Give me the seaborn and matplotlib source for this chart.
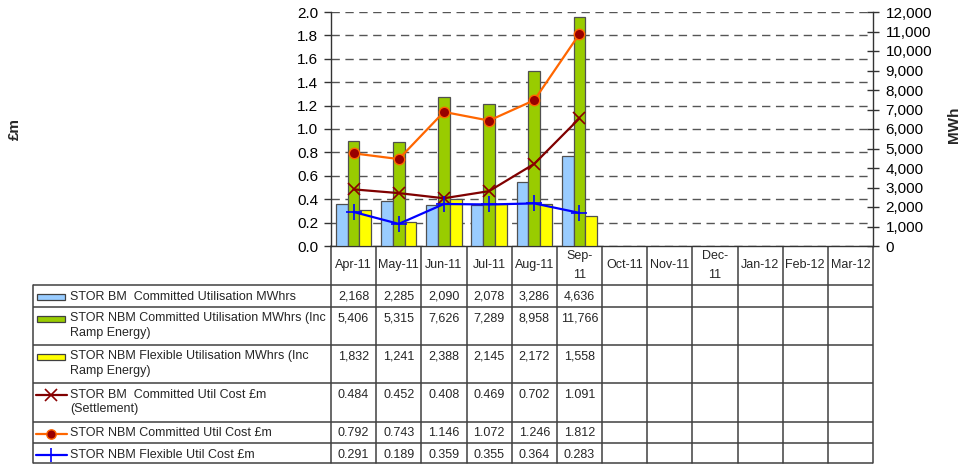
import numpy as np
import pandas as pd
import matplotlib
matplotlib.use("Agg")
import matplotlib.pyplot as plt
import matplotlib.transforms as mtransforms
from matplotlib.patches import Rectangle
from matplotlib.lines import Line2D
import seaborn as sns

# ---------------- data ----------------
months = ["Apr-11", "May-11", "Jun-11", "Jul-11", "Aug-11", "Sep-11",
          "Oct-11", "Nov-11", "Dec-11", "Jan-12", "Feb-12", "Mar-12"]
month_labels = ["Apr-11", "May-11", "Jun-11", "Jul-11", "Aug-11", "Sep-\n11",
                "Oct-11", "Nov-11", "Dec-\n11", "Jan-12", "Feb-12", "Mar-12"]
data_months = months[:6]

bm_committed_mwh = [2168, 2285, 2090, 2078, 3286, 4636]
nbm_committed_mwh = [5406, 5315, 7626, 7289, 8958, 11766]
nbm_flexible_mwh = [1832, 1241, 2388, 2145, 2172, 1558]
bm_committed_cost = [0.484, 0.452, 0.408, 0.469, 0.702, 1.091]
nbm_committed_cost = [0.792, 0.743, 1.146, 1.072, 1.246, 1.812]
nbm_flexible_cost = [0.291, 0.189, 0.359, 0.355, 0.364, 0.283]

bar_names = ["STOR BM  Committed Utilisation MWhrs",
             "STOR NBM Committed Utilisation MWhrs (Inc\nRamp Energy)",
             "STOR NBM Flexible Utilisation MWhrs (Inc\nRamp Energy)"]
line_names = ["STOR BM  Committed Util Cost £m\n(Settlement)",
              "STOR NBM Committed Util Cost £m",
              "STOR NBM Flexible Util Cost £m"]

left_ticks = [0.0, 0.2, 0.4, 0.6, 0.8, 1.0, 1.2, 1.4, 1.6, 1.8, 2.0]
right_ticks = [0, 1000, 2000, 3000, 4000, 5000, 6000, 7000, 8000, 9000, 10000, 11000, 12000]

# ---------------- styling ----------------
sns.set_theme(style="white")
plt.rcParams["font.family"] = ["Liberation Sans", "DejaVu Sans"]

bar_colors = ["#99CCFF", "#99CC00", "#FFFF00"]
line_styles = [
    dict(color="#800000", marker="x", markersize=9, markeredgewidth=1.2,
         markeredgecolor="#8B0000", linewidth=1.6),
    dict(color="#FF6600", marker="o", markersize=7.5, markerfacecolor="#990000",
         markeredgecolor="#FF6600", markeredgewidth=1.0, linewidth=1.6),
    dict(color="#0000FF", marker="+", markersize=11, markeredgewidth=1.2,
         markeredgecolor="#0000FF", linewidth=1.6),
]

W, H = 964, 466
fig = plt.figure(figsize=(W / 100, H / 100), dpi=100)

ax_x0, ax_x1 = 331, 873
ax_top, ax_bot = 12, 246
ax = fig.add_axes([ax_x0 / W, 1 - ax_bot / H, (ax_x1 - ax_x0) / W, (ax_bot - ax_top) / H])
ax_bar = ax.twinx()
ax_line = ax.twinx()

# bars (MWh, right axis)
df_bar = pd.DataFrame({
    "month": data_months * 3,
    "series": [bar_names[0]] * 6 + [bar_names[1]] * 6 + [bar_names[2]] * 6,
    "value": bm_committed_mwh + nbm_committed_mwh + nbm_flexible_mwh,
})
sns.barplot(data=df_bar, x="month", y="value", hue="series", order=months,
            hue_order=bar_names, palette=bar_colors, width=0.78, gap=0,
            edgecolor="#505050", linewidth=0.9, errorbar=None, legend=False,
            saturation=1, ax=ax_bar)

# lines (£m, left scale)
x_idx = np.arange(len(data_months))
for vals, st in zip([bm_committed_cost, nbm_committed_cost, nbm_flexible_cost], line_styles):
    sns.lineplot(x=x_idx, y=vals, ax=ax_line, **st)

# axes limits / ticks
for a in (ax, ax_bar, ax_line):
    a.set_xlim(-0.5, len(months) - 0.5)
    a.set_xlabel("")
    a.set_ylabel("")
    a.spines["top"].set_visible(False)

ax.set_ylim(0, 2.0)
ax_line.set_ylim(0, 2.0)
ax_bar.set_ylim(0, 12000)

ax.set_yticks(left_ticks)
ax.set_yticklabels([f"{v:.1f}" for v in left_ticks], fontsize=11)
ax.yaxis.grid(True, color="#555555", linestyle=(0, (6, 4)), linewidth=1.0)
ax.xaxis.grid(False)
ax.tick_params(axis="y", direction="out", length=5, width=1, color="#333333",
               pad=4, left=True, labelcolor="black")

ax_bar.set_yticks(right_ticks)
ax_bar.set_yticklabels([f"{v:,}" for v in right_ticks], fontsize=11)
ax_bar.tick_params(axis="y", direction="inout", length=8, width=1, color="#333333",
                   pad=5, right=True, labelcolor="black")
ax_bar.grid(False)

ax_line.set_yticks([])
ax_line.grid(False)
for s in ax_line.spines.values():
    s.set_visible(False)

ax.set_xticks(range(len(months)))
ax.set_xticklabels(month_labels, fontsize=9)
for lab in ax.get_xticklabels():
    lab.set_va("center")
    lab.set_linespacing(1.7)
ax.tick_params(axis="x", length=0, pad=14)

for a in (ax, ax_bar):
    for side in ("left", "right", "bottom"):
        a.spines[side].set_color("#333333")
        a.spines[side].set_linewidth(1.0)
ax.spines["right"].set_visible(False)
ax_bar.spines["left"].set_visible(False)
ax_bar.spines["bottom"].set_visible(False)

fig.text(15 / W, 1 - 129 / H, "£m", rotation=90, ha="center", va="center",
         fontsize=11, fontweight="bold")
fig.text(954 / W, 1 - 125 / H, "MWh", rotation=90, ha="center", va="center",
         fontsize=11, fontweight="bold")

# ---------------- data table ----------------
tab = fig.add_axes([0, 0, 1, 1], zorder=-1)
tab.set_xlim(0, W)
tab.set_ylim(H, 0)
tab.axis("off")
tab.patch.set_visible(False)
bt = mtransforms.blended_transform_factory(ax.transData, tab.transData)

row_edges = [285, 307, 345, 383, 422, 443, 463]
table_left = 33
lc = "#404040"
lw = 1.1
for y in row_edges:
    tab.plot([table_left, ax_x1], [y, y], color=lc, lw=lw, solid_capstyle="butt")
tab.plot([table_left, table_left], [row_edges[0], row_edges[-1]], color=lc, lw=lw)
for i in range(len(months) + 1):
    tab.plot([i - 0.5, i - 0.5], [ax_bot, row_edges[-1]], color=lc, lw=lw, transform=bt)

row_labels = bar_names + line_names
row_values = [
    [f"{v:,}" for v in bm_committed_mwh],
    [f"{v:,}" for v in nbm_committed_mwh],
    [f"{v:,}" for v in nbm_flexible_mwh],
    [f"{v:.3f}" for v in bm_committed_cost],
    [f"{v:.3f}" for v in nbm_committed_cost],
    [f"{v:.3f}" for v in nbm_flexible_cost],
]
for r in range(6):
    top = row_edges[r]
    tab.text(70, top + 5.5, row_labels[r], fontsize=9, ha="left", va="top",
             linespacing=1.3)
    for j, s in enumerate(row_values[r]):
        tab.text(j, top + 5.5, s, fontsize=9, ha="center", va="top", transform=bt)
    key_y = top + 12
    if r < 3:
        tab.add_patch(Rectangle((37, key_y - 3.3), 28, 6.6, facecolor=bar_colors[r],
                                edgecolor="#404040", linewidth=0.9))
    else:
        st = dict(line_styles[r - 3])
        st["markersize"] = st["markersize"] * 0.9
        tab.add_line(Line2D([36, 51, 67], [key_y, key_y, key_y], markevery=[1], **st))

fig.savefig("out.png", dpi=100)
